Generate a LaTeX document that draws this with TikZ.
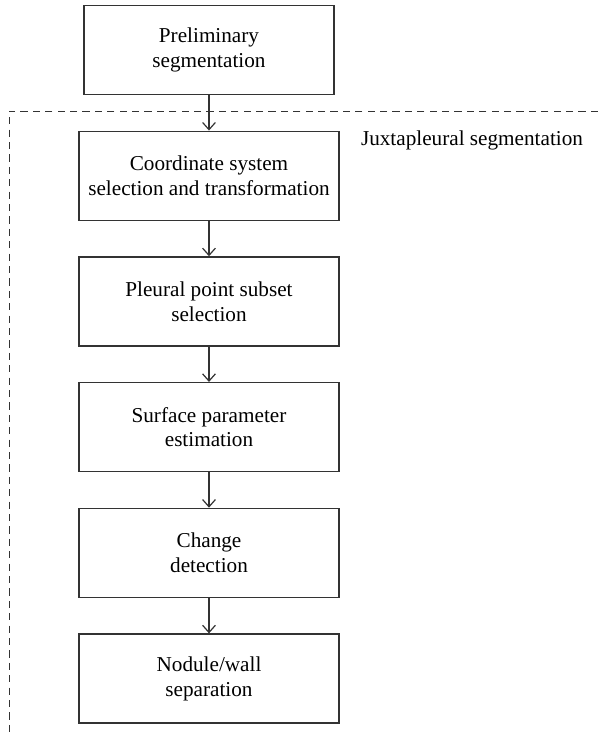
\documentclass[tikz,border=0pt]{standalone}
\usepackage{fontspec}
\setmainfont{Liberation Serif}
\usepackage{tikz}
\usetikzlibrary{arrows.meta, positioning}
\definecolor{linegray}{HTML}{333333}

\begin{document}
\begin{tikzpicture}[
  font=\fontsize{10.6pt}{12.4pt}\selectfont,
  node distance=17.7pt,
  stage/.style={rectangle, draw=linegray, line width=0.65pt, fill=white,
                minimum width=130pt, minimum height=44.5pt, align=center,
                inner sep=2pt},
  arrow/.style={-{Straight Barb[length=3.6pt, width=6.4pt]}, line width=0.6pt, color=linegray},
  frame/.style={dashed, dash pattern=on 3.6pt off 2.6pt, line width=0.5pt, color=linegray},
]
\useasboundingbox (0,0) rectangle (299pt,-368pt);

% dashed region of the juxtapleural part
\coordinate (frameR) at (299pt,-55.5pt);
\coordinate (frameC) at (4.5pt,-55.5pt);
\coordinate (frameB) at (4.5pt,-368pt);
\draw[frame] (frameR) -- (frameC) -- (frameB);

\node[stage, minimum width=125pt] (prelim) at (104.5pt,-25pt) {Preliminary\\segmentation};
\node[stage, below=of prelim] (coord) {Coordinate system\\selection and transformation};
\node[stage, below=of coord] (pleural) {Pleural point subset\\selection};
\node[stage, below=of pleural] (surface) {Surface parameter\\estimation};
\node[stage, below=of surface] (change) {Change\\detection};
\node[stage, below=of change] (nodule) {Nodule/wall\\separation};

\draw[arrow] (prelim) -- (coord);
\draw[arrow] (coord) -- (pleural);
\draw[arrow] (pleural) -- (surface);
\draw[arrow] (surface) -- (change);
\draw[arrow] (change) -- (nodule);

\node[anchor=base west, inner sep=0pt] (juxta) at ([shift={(10.5pt,-7.5pt)}]coord.north east) {Juxtapleural segmentation};
\end{tikzpicture}
\end{document}
